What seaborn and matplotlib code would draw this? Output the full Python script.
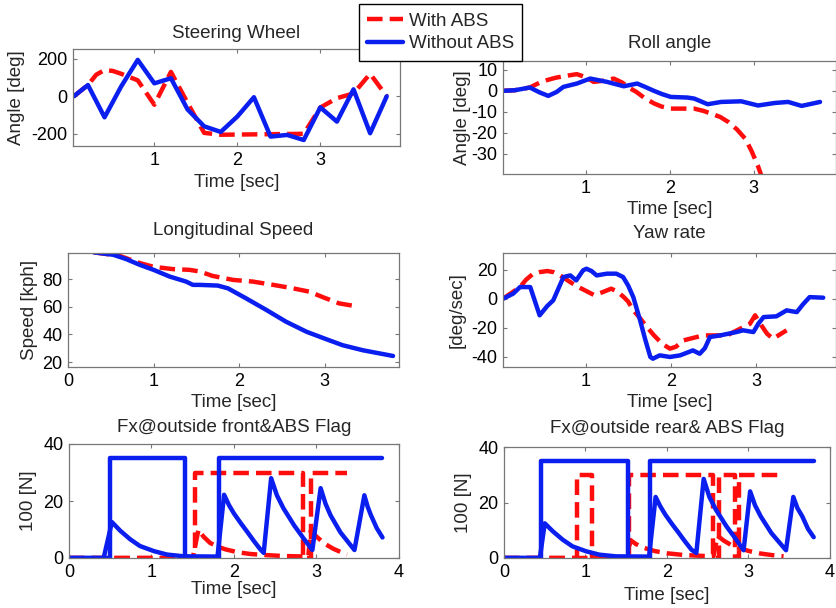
import matplotlib
matplotlib.use("Agg")
import matplotlib.pyplot as plt
import seaborn as sns

RED = "#ff0d0d"
BLUE = "#0a1ef0"

# Steering wheel angle [deg]
steer_t_with = [0.03, 0.2, 0.3, 0.4, 0.5, 0.6, 0.8, 1.0, 1.2, 1.4, 1.6, 1.8, 2.8, 3.0, 3.2, 3.4, 3.6, 3.8]
steer_with = [0, 60, 115, 140, 135, 120, 85, -45, 130, -35, -195, -205, -200, -60, -10, 15, 120, 0]
steer_t_without = [0.03, 0.2, 0.4, 0.6, 0.8, 1.0, 1.2, 1.4, 1.6, 1.8, 2.0, 2.2, 2.4, 2.6, 2.8, 3.0, 3.2, 3.4, 3.6, 3.8]
steer_without = [0, 60, -112, 52, 194, 69, 96, -70, -160, -190, -108, -5, -215, -206, -233, -59, -135, 37, -197, 0]

# Roll angle [deg]
roll_t_with = [0, 0.15, 0.33, 0.45, 0.53, 0.63, 0.73, 0.89, 1.0, 1.09, 1.2, 1.33, 1.43, 1.53, 1.6, 1.7, 1.81,
               1.9, 2.01, 2.29, 2.4, 2.5, 2.6, 2.7, 2.8, 2.9, 2.97, 3.05, 3.12]
roll_with = [0, 0.3, 1.6, 4.0, 5.1, 6.2, 7.0, 8.0, 6.5, 4.3, 4.8, 5.9, 4.0, 1.1, -0.5, -3.5, -6.0,
             -7.5, -8.5, -8.5, -9.6, -11, -12.5, -15, -18.5, -23, -28.5, -36, -44]
roll_t_without = [0, 0.15, 0.33, 0.45, 0.55, 0.65, 0.73, 0.89, 1.05, 1.25, 1.45, 1.61, 1.71, 1.81, 1.91, 2.01,
                  2.21, 2.29, 2.45, 2.61, 2.85, 3.05, 3.25, 3.41, 3.57, 3.79]
roll_without = [0, 0.3, 1.6, -0.8, -2.4, -0.5, 1.9, 3.5, 5.9, 4.3, 2.2, 3.5, 1.8, 0, -1.6, -2.9,
                -3.2, -3.7, -6.4, -5.3, -5.0, -7.0, -5.8, -5.3, -7.2, -5.3]

# Longitudinal speed [kph]
speed_t_with = [0.3, 0.6, 0.84, 1.0, 1.23, 1.42, 1.54, 1.69, 1.93, 2.16, 2.4, 2.63, 2.82, 3.0, 3.17, 3.35]
speed_with = [99.5, 97, 91.7, 89.0, 87.3, 86.8, 85.6, 82.4, 79.5, 78.3, 75.9, 73.4, 71, 66.5, 62.5, 60.6]
speed_t_without = [0.3, 0.53, 0.68, 0.84, 1.0, 1.19, 1.38, 1.46, 1.54, 1.75, 1.87, 2.08, 2.32, 2.55,
                   2.79, 3.0, 3.21, 3.45, 3.8]
speed_without = [99.5, 97.7, 94.6, 90.4, 86.8, 81.9, 78.3, 75.9, 75.9, 75.4, 73.4, 66.2, 57.7, 49.2,
                 41.9, 37, 32.2, 28.5, 24.4]

# Yaw rate [deg/sec]
yaw_t_with = [0.03, 0.23, 0.3, 0.38, 0.46, 0.55, 0.62, 0.7, 0.82, 0.9, 1.0, 1.1, 1.2, 1.3, 1.37, 1.45,
              1.5, 1.56, 1.62, 1.7, 1.8, 1.9, 1.99, 2.06, 2.15, 2.38, 2.66, 2.93, 2.99, 3.06, 3.13, 3.2, 3.36]
yaw_with = [0, 8, 13, 17, 18.3, 19, 18.3, 16, 11.4, 8.5, 5.5, 2.5, 4.5, 6.9, 5, 1,
            -2, -8, -12, -18, -25, -31, -34.3, -33, -28.6, -25.2, -25.2, -17.2, -11.4, -18, -24, -27.5, -21.7]
yaw_t_without = [0.03, 0.15, 0.23, 0.35, 0.46, 0.55, 0.62, 0.74, 0.82, 0.89, 0.97, 1.01, 1.07, 1.13, 1.25,
                 1.36, 1.44, 1.5, 1.56, 1.64, 1.7, 1.76, 1.79, 1.87, 1.99, 2.11, 2.26, 2.34, 2.4, 2.46, 2.58,
                 2.77, 2.85, 2.97, 3.03, 3.09, 3.24, 3.36, 3.48, 3.55, 3.63, 3.79]
yaw_without = [0, 3.5, 8, 8, -11.4, -5, -1.1, 14.9, 16, 12.6, 19.5, 20.6, 19, 16, 17.2,
               17.2, 14.9, 9, 1.1, -14.9, -28, -40, -41.2, -38.9, -40, -38.9, -35.5, -37.8, -34, -26.3, -25.2,
               -22.9, -21.7, -22.9, -17, -12.6, -12.1, -8, -9.2, -4, 1.1, 0.7]

# Fx @ outside front [100 N] and ABS flag
front_flag_t_with = [0, 1.53, 1.53, 2.84, 2.84, 2.93, 2.93, 3.37]
front_flag_with = [0, 0, 30, 30, 0, 0, 30, 30]
front_fx_t_with = [0, 1.5, 1.57, 1.63, 1.71, 1.8, 1.9, 2.05, 2.2, 2.4, 2.6, 2.9, 2.93, 3.0, 3.1, 3.2, 3.3, 3.37]
front_fx_with = [0, 0, 10, 7.5, 5.3, 4, 3, 2, 1.4, 1, 0.7, 0.5, 9.5, 7.5, 5, 3.3, 2, 1.2]
front_flag_t_without = [0, 0.5, 0.5, 1.41, 1.41, 1.82, 1.82, 3.8]
front_flag_without = [0, 0, 35, 35, 0, 0, 35, 35]
front_fx_t_without = [0, 0.42, 0.52, 0.62, 0.74, 0.86, 1.03, 1.19, 1.39, 1.8, 1.88, 1.94, 2.0, 2.08, 2.16,
                      2.24, 2.32, 2.36, 2.45, 2.52, 2.6, 2.73, 2.85, 2.95, 3.05, 3.11, 3.17, 3.29, 3.46,
                      3.58, 3.62, 3.66, 3.73, 3.8]
front_fx_without = [0, 0, 12.6, 9.6, 6.6, 4.2, 2.4, 1.2, 0.6, 0.5, 22.2, 18.5, 15.6, 12.3, 9.2,
                    6.0, 3.0, 1.8, 28, 22, 17.4, 11.4, 6.6, 2.8, 24.5, 19, 15, 9, 2.8,
                    22, 18, 15, 10.5, 7.2]

# Fx @ outside rear [100 N] and ABS flag
rear_flag_t_with = [0, 0.9, 0.9, 1.08, 1.08, 1.53, 1.53, 2.57, 2.57, 2.64, 2.64, 2.84, 2.84, 2.88, 2.88, 3.39]
rear_flag_with = [0, 0, 30, 30, 0, 0, 30, 30, 0, 0, 30, 30, 0, 0, 30, 30]
rear_fx_t_with = [0, 1.52, 1.55, 1.62, 1.7, 1.85, 2.0, 2.2, 2.4, 2.57, 2.62, 2.7, 2.78, 2.9, 3.02, 3.15, 3.3, 3.43]
rear_fx_with = [0, 0, 6.5, 5, 3.8, 2.5, 1.7, 1.1, 0.8, 0.6, 8, 6.2, 4.8, 3.4, 2.4, 1.6, 1, 0.6]
rear_flag_t_without = [0, 0.46, 0.46, 1.52, 1.52, 1.79, 1.79, 3.8]
rear_flag_without = [0, 0, 35, 35, 0, 0, 35, 35]
rear_fx_t_without = [0, 0.44, 0.5, 0.6, 0.72, 0.84, 1.01, 1.17, 1.37, 1.78, 1.86, 1.92, 1.98, 2.06, 2.14,
                     2.22, 2.3, 2.36, 2.45, 2.52, 2.6, 2.73, 2.85, 2.94, 3.02, 3.08, 3.15, 3.28, 3.46,
                     3.55, 3.6, 3.66, 3.73, 3.8]
rear_fx_without = [0, 0, 12.5, 9.6, 6.6, 4.2, 2.4, 1.2, 0.6, 0.5, 22, 18.5, 15.6, 12.3, 9.2,
                   6.0, 3.0, 1.8, 28.5, 22, 17.4, 11.4, 6.6, 2.8, 24, 19, 15, 9, 2.8,
                   22, 18, 15, 10.5, 7.5]

sns.set_style("ticks")
plt.rcParams["font.family"] = ["Liberation Sans", "DejaVu Sans"]
plt.rcParams.update({
    "font.size": 13.5,
    "axes.unicode_minus": False,
    "axes.edgecolor": "#777777",
    "axes.linewidth": 0.9,
    "xtick.direction": "in",
    "ytick.direction": "in",
    "xtick.top": True,
    "ytick.right": True,
    "xtick.color": "#777777",
    "ytick.color": "#777777",
    "xtick.labelcolor": "black",
    "ytick.labelcolor": "black",
    "xtick.major.size": 3,
    "ytick.major.size": 3,
    "xtick.major.pad": 4,
    "ytick.major.pad": 4,
    "xtick.labelsize": 13,
    "ytick.labelsize": 13,
    "axes.titlesize": 13.5,
    "axes.labelsize": 13.5,
})

W, H = 837, 608
fig = plt.figure(figsize=(W / 100, H / 100), dpi=100)


def add_ax(left, top, right, bottom):
    return fig.add_axes([left / W, 1 - bottom / H, (right - left) / W, (bottom - top) / H])


def draw(ax, t, v, color, dashed, label=None):
    ls = (0, (3.5, 1.6)) if dashed else "-"
    sns.lineplot(x=t, y=v, ax=ax, color=color, linewidth=3.2, linestyle=ls,
                 estimator=None, sort=False, label=label, legend=False)


def place_ylabel(ax, text, left, right, px):
    # put the right edge of the rotated label at pixel column px
    ax.set_ylabel(text)
    ax.yaxis.set_label_coords((px - left) / (right - left), 0.5)


ax1 = add_ax(73, 49, 400, 146)
draw(ax1, steer_t_with, steer_with, RED, True, "With ABS")
draw(ax1, steer_t_without, steer_without, BLUE, False, "Without ABS")
ax1.set(xlim=(0.02, 3.96), ylim=(-265, 252), xticks=[1, 2, 3], yticks=[-200, 0, 200])
ax1.set_title("Steering Wheel", pad=8)
place_ylabel(ax1, "Angle [deg]", 73, 400, 25)
ax1.set_xlabel("Time [sec]", labelpad=4)

ax2 = add_ax(503, 61, 836, 174)
draw(ax2, roll_t_with, roll_with, RED, True)
draw(ax2, roll_t_without, roll_without, BLUE, False)
ax2.set(xlim=(0.01, 3.98), ylim=(-39.8, 14.3), xticks=[1, 2, 3], yticks=[-30, -20, -10, 0, 10])
ax2.set_title("Roll angle", pad=9.5)
place_ylabel(ax2, "Angle [deg]", 503, 836, 471)
ax2.set_xlabel("Time [sec]", labelpad=3)

ax3 = add_ax(68, 253, 399, 367)
draw(ax3, speed_t_with, speed_with, RED, True)
draw(ax3, speed_t_without, speed_without, BLUE, False)
ax3.set(xlim=(0, 3.87), ylim=(16.4, 99), xticks=[0, 1, 2, 3], yticks=[20, 40, 60, 80])
ax3.set_title("Longitudinal Speed", pad=13)
place_ylabel(ax3, "Speed [kph]", 68, 399, 38)
ax3.set_xlabel("Time [sec]", labelpad=3)

ax4 = add_ax(503, 253, 836, 367)
draw(ax4, yaw_t_with, yaw_with, RED, True)
draw(ax4, yaw_t_without, yaw_without, BLUE, False)
ax4.set(xlim=(0.03, 3.94), ylim=(-46.9, 31.4), xticks=[1, 2, 3], yticks=[-40, -20, 0, 20])
ax4.set_title("Yaw rate", pad=11)
place_ylabel(ax4, "[deg/sec]", 503, 836, 466)
ax4.set_xlabel("Time [sec]", labelpad=3)

ax5 = add_ax(69, 444, 399, 558)
draw(ax5, front_flag_t_with, front_flag_with, RED, True)
draw(ax5, front_fx_t_with, front_fx_with, RED, True)
draw(ax5, front_flag_t_without, front_flag_without, BLUE, False)
draw(ax5, front_fx_t_without, front_fx_without, BLUE, False)
ax5.set(xlim=(0, 4), ylim=(0, 40), xticks=[0, 1, 2, 3, 4], yticks=[0, 20, 40])
ax5.set_title("Fx@outside front&ABS Flag", pad=8.5)
place_ylabel(ax5, "100 [N]", 69, 399, 37)
ax5.set_xlabel("Time [sec]", labelpad=0)

ax6 = add_ax(504, 447, 830, 558)
draw(ax6, rear_flag_t_with, rear_flag_with, RED, True)
draw(ax6, rear_fx_t_with, rear_fx_with, RED, True)
draw(ax6, rear_flag_t_without, rear_flag_without, BLUE, False)
draw(ax6, rear_fx_t_without, rear_fx_without, BLUE, False)
ax6.set(xlim=(0, 4), ylim=(0, 40), xticks=[0, 1, 2, 3, 4], yticks=[0, 20, 40])
ax6.set_title("Fx@outside rear& ABS Flag", pad=10)
place_ylabel(ax6, "100 [N]", 504, 830, 472)
ax6.set_xlabel("Time [sec]", labelpad=5)

for ax in [ax1, ax2, ax3, ax4, ax5, ax6]:
    ax.set_facecolor("white")

handles, labels = ax1.get_legend_handles_labels()
fig.legend(handles, labels, loc="upper left", bbox_to_anchor=(359 / W, 1 - 4 / H),
           borderaxespad=0, frameon=True, fancybox=False, edgecolor="black",
           framealpha=1, fontsize=13.5, handlelength=1.9, handletextpad=0.3,
           borderpad=0.45, labelspacing=0.3)

fig.savefig("out.png", dpi=100)
